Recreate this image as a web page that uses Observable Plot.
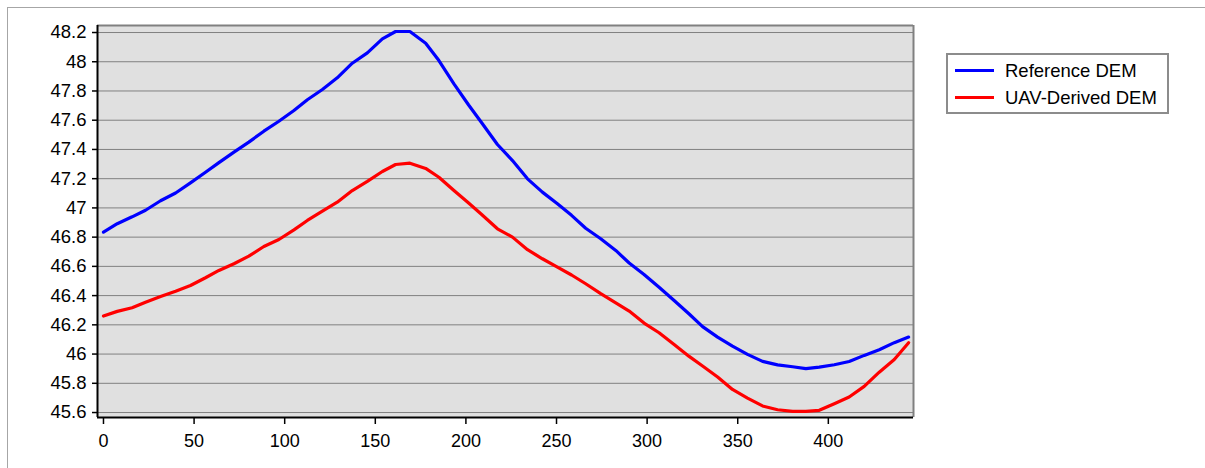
<!DOCTYPE html>
<html><head><meta charset="utf-8">
<script src="https://cdn.jsdelivr.net/npm/d3@7"></script>
<script src="https://cdn.jsdelivr.net/npm/@observablehq/plot@0.6"></script>
<style>
body{margin:0;background:#fff;font-family:"Liberation Sans",Arial,sans-serif;}
#wrap{position:relative;width:1205px;height:468px;overflow:hidden;}
#border{position:absolute;left:7px;top:7px;width:1400px;height:600px;border:1px solid #a6a6a6;}
#chart{position:absolute;left:0;top:0;}
#legend{position:absolute;left:946px;top:53px;width:219px;height:57px;border:2px solid #8c8c8c;background:#fff;}
.sw{position:absolute;left:7px;width:39px;height:3px;}
.lt{position:absolute;left:57px;font-size:18.5px;line-height:20px;color:#000;white-space:nowrap;}
</style></head>
<body>
<div id="wrap"><div id="border"></div><div id="chart"></div><div id="legend"></div></div>
<script>
const distance = [0, 7.6, 15.8, 23.2, 31.5, 39.8, 48.0, 56.3, 63.7, 72.0, 80.2, 88.5, 96.8, 105.1, 112.5, 120.8, 129.0, 137.3, 145.6, 153.9, 161.2, 169.1, 177.8, 185.1, 193.4, 201.5, 208.7, 217.4, 225.7, 234.0, 242.2, 250.5, 258.3, 266.1, 274.4, 282.7, 290.1, 298.3, 306.6, 314.9, 323.2, 330.6, 338.9, 347.1, 355.4, 363.7, 372.0, 380.3, 387.6, 395.0, 403.3, 411.5, 419.8, 428.1, 436.4, 444.3];
const referenceDEM = [46.834, 46.892, 46.939, 46.984, 47.049, 47.102, 47.171, 47.244, 47.310, 47.382, 47.450, 47.525, 47.593, 47.666, 47.740, 47.810, 47.890, 47.990, 48.061, 48.157, 48.207, 48.207, 48.127, 48.008, 47.849, 47.704, 47.583, 47.434, 47.324, 47.199, 47.108, 47.028, 46.949, 46.861, 46.789, 46.709, 46.623, 46.545, 46.457, 46.366, 46.274, 46.188, 46.116, 46.054, 45.998, 45.950, 45.926, 45.913, 45.900, 45.911, 45.927, 45.949, 45.991, 46.030, 46.078, 46.116];
const uavDEM = [46.260, 46.292, 46.317, 46.355, 46.394, 46.430, 46.469, 46.522, 46.572, 46.618, 46.670, 46.736, 46.784, 46.850, 46.914, 46.978, 47.039, 47.119, 47.181, 47.249, 47.297, 47.306, 47.270, 47.210, 47.119, 47.034, 46.955, 46.857, 46.800, 46.714, 46.652, 46.595, 46.541, 46.481, 46.413, 46.351, 46.294, 46.212, 46.146, 46.066, 45.984, 45.918, 45.843, 45.758, 45.699, 45.645, 45.619, 45.608, 45.608, 45.615, 45.660, 45.706, 45.779, 45.876, 45.963, 46.078];
const seriesNames = ["Reference DEM", "UAV-Derived DEM"];
const seriesColors = ["#0000ff", "#ff0000"];
const xTicks = [0, 50, 100, 150, 200, 250, 300, 350, 400];
const yTicks = [45.6, 45.8, 46, 46.2, 46.4, 46.6, 46.8, 47, 47.2, 47.4, 47.6, 47.8, 48, 48.2];
const yTickLabels = ["45.6", "45.8", "46", "46.2", "46.4", "46.6", "46.8", "47", "47.2", "47.4", "47.6", "47.8", "48", "48.2"];

const xDomain = [-3.3, 447];
const yDomain = [45.566, 48.248];

const data = distance.flatMap((d, i) => [
  {x: d, y: referenceDEM[i], s: seriesNames[0]},
  {x: d, y: uavDEM[i], s: seriesNames[1]}
]);

const chart = Plot.plot({
  width: 1205, height: 468,
  marginLeft: 97, marginRight: 292, marginTop: 25, marginBottom: 51,
  style: {fontFamily: "Liberation Sans, Arial, sans-serif", color: "#000", background: "transparent", overflow: "visible"},
  x: {domain: xDomain},
  y: {domain: yDomain},
  color: {domain: seriesNames, range: seriesColors},
  marks: [
    Plot.frame({fill: "#e0e0e0", stroke: null}),
    Plot.ruleY(yTicks, {stroke: "#808080", strokeWidth: 1, strokeOpacity: 1}),
    Plot.line(data, {x: "x", y: "y", stroke: "s", strokeWidth: 3.2, strokeLinejoin: "round", strokeLinecap: "round"}),
    Plot.ruleY([yDomain[1]], {stroke: "#808080", strokeWidth: 2}),
    Plot.ruleX([xDomain[1]], {stroke: "#808080", strokeWidth: 2}),
    Plot.axisY({ticks: yTicks, tickFormat: d => yTickLabels[yTicks.indexOf(d)], tickSize: 5, tickPadding: 6, fontSize: 18.5, label: null, strokeWidth: 1.5}),
    Plot.axisX({ticks: xTicks, tickSize: 7, tickPadding: 10, fontSize: 18, label: null, strokeWidth: 1.5}),
    Plot.ruleX([xDomain[0]], {stroke: "#000", strokeWidth: 2}),
    Plot.ruleY([yDomain[0]], {stroke: "#000", strokeWidth: 2})
  ]
});
document.getElementById("chart").append(chart);

const legend = document.getElementById("legend");
seriesNames.forEach((name, i) => {
  const sw = document.createElement("div");
  sw.className = "sw";
  sw.style.top = (13.5 + i * 27) + "px";
  sw.style.background = seriesColors[i];
  legend.append(sw);
  const t = document.createElement("div");
  t.className = "lt";
  t.style.top = (6 + i * 27) + "px";
  t.textContent = name;
  legend.append(t);
});
</script>
</body></html>
